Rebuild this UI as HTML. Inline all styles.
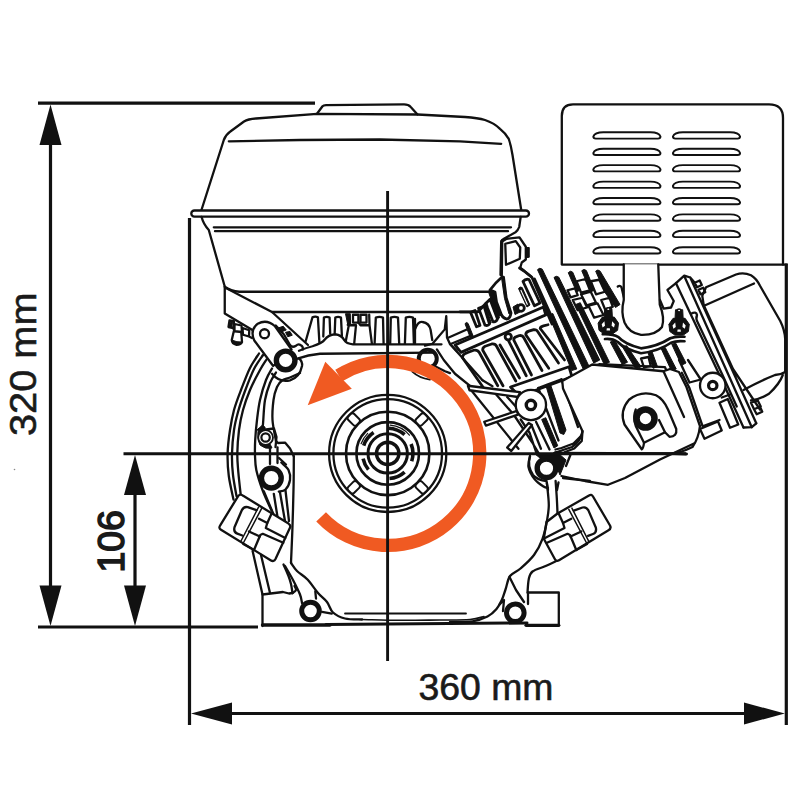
<!DOCTYPE html>
<html lang="en">
<head>
<meta charset="utf-8">
<title>Engine dimensions</title>
<style>
html,body{margin:0;padding:0;background:#fff;}
body{width:800px;height:800px;overflow:hidden;}
svg{display:block;}
text{font-family:"Liberation Sans",sans-serif;fill:#1a1a1a;}
.tx{stroke:#1a1a1a;stroke-width:.6;}
.k{fill:none;stroke:#111;stroke-width:2.3;stroke-linecap:round;stroke-linejoin:round;}
.t{fill:none;stroke:#111;stroke-width:1.1;stroke-linecap:round;stroke-linejoin:round;}
.w{fill:#fff;stroke:#111;stroke-width:2.3;stroke-linecap:round;stroke-linejoin:round;}
.b{fill:#111;stroke:none;}
.z path,.z circle,.z rect,.z ellipse,.z polygon,.z polyline,.z line{vector-effect:non-scaling-stroke;}
.hv .k,.hv .w{stroke-width:2.8;}
.bk{fill:#111;stroke:#111;stroke-width:1;stroke-linejoin:round;}
.o{fill:#f05a22;stroke:none;}
.d{fill:none;stroke:#111;stroke-width:3.2;}
</style>
</head>
<body>
<svg width="800" height="800" viewBox="0 0 800 800">
<rect width="800" height="800" fill="#fff"/>

<!-- TANK -->
<g id="tank">
<path class="k" d="M317 113.8L322.5 106.3Q323.5 105.2 326 105.1L404 104.4Q408.5 104.4 410.5 106.8L417.5 114.5"/>
<path class="k" d="M201.3 210.5L223.8 140Q226 134.5 230 131.8L244 121.5Q248 119 256 118.5L317 113.8L417.5 114.5L465 117Q478 118 485 120Q494 123 500 128.8Q506 133.5 508.8 139Q511.2 146 512.5 155L521.3 210.5"/>
<path class="k" d="M228.8 141.3L300 140L380 139.5L460 141.3L501.2 143.8"/>
<rect class="w" x="191.3" y="210.5" width="537.5" height="6.2" rx="3.1" style="width:337.7px"/>
<path class="k" d="M213.8 227.3H511M215 231.2H508"/>
<path class="k" d="M201.5 216.8Q203.5 224.5 208.8 230L224.75 286.5"/>
<path class="k" d="M520.7 216.8L519.2 227Q518 230.5 515.5 232.2L503.5 239L501.2 241.2L500.5 275"/>
</g>


<!-- MUFFLER -->
<g id="muffler">
<path class="k" d="M561.8 264.6V116Q561.8 104.4 573 104.4H769Q783 104.4 783 118V264.6Z"/>
<path class="k" d="M595.8 138.6H658.0Q660.5 138.6 660.5 136.6Q659.0 132.3 650.5 132.3H603.3Q594.8 132.3 593.3 136.6Q593.3 138.6 595.8 138.6ZM675.4 138.6H737.6Q740.1 138.6 740.1 136.6Q738.6 132.3 730.1 132.3H682.9Q674.4 132.3 672.9 136.6Q672.9 138.6 675.4 138.6ZM595.8 155.0H658.0Q660.5 155.0 660.5 153.0Q659.0 148.7 650.5 148.7H603.3Q594.8 148.7 593.3 153.0Q593.3 155.0 595.8 155.0ZM675.4 155.0H737.6Q740.1 155.0 740.1 153.0Q738.6 148.7 730.1 148.7H682.9Q674.4 148.7 672.9 153.0Q672.9 155.0 675.4 155.0ZM595.8 171.4H658.0Q660.5 171.4 660.5 169.4Q659.0 165.1 650.5 165.1H603.3Q594.8 165.1 593.3 169.4Q593.3 171.4 595.8 171.4ZM675.4 171.4H737.6Q740.1 171.4 740.1 169.4Q738.6 165.1 730.1 165.1H682.9Q674.4 165.1 672.9 169.4Q672.9 171.4 675.4 171.4ZM595.8 187.9H658.0Q660.5 187.9 660.5 185.9Q659.0 181.6 650.5 181.6H603.3Q594.8 181.6 593.3 185.9Q593.3 187.9 595.8 187.9ZM675.4 187.9H737.6Q740.1 187.9 740.1 185.9Q738.6 181.6 730.1 181.6H682.9Q674.4 181.6 672.9 185.9Q672.9 187.9 675.4 187.9ZM595.8 204.3H658.0Q660.5 204.3 660.5 202.3Q659.0 198.0 650.5 198.0H603.3Q594.8 198.0 593.3 202.3Q593.3 204.3 595.8 204.3ZM675.4 204.3H737.6Q740.1 204.3 740.1 202.3Q738.6 198.0 730.1 198.0H682.9Q674.4 198.0 672.9 202.3Q672.9 204.3 675.4 204.3ZM595.8 220.7H658.0Q660.5 220.7 660.5 218.7Q659.0 214.4 650.5 214.4H603.3Q594.8 214.4 593.3 218.7Q593.3 220.7 595.8 220.7ZM675.4 220.7H737.6Q740.1 220.7 740.1 218.7Q738.6 214.4 730.1 214.4H682.9Q674.4 214.4 672.9 218.7Q672.9 220.7 675.4 220.7ZM595.8 237.1H658.0Q660.5 237.1 660.5 235.1Q659.0 230.8 650.5 230.8H603.3Q594.8 230.8 593.3 235.1Q593.3 237.1 595.8 237.1ZM675.4 237.1H737.6Q740.1 237.1 740.1 235.1Q738.6 230.8 730.1 230.8H682.9Q674.4 230.8 672.9 235.1Q672.9 237.1 675.4 237.1ZM595.8 253.5H658.0Q660.5 253.5 660.5 251.5Q659.0 247.2 650.5 247.2H603.3Q594.8 247.2 593.3 251.5Q593.3 253.5 595.8 253.5ZM675.4 253.5H737.6Q740.1 253.5 740.1 251.5Q738.6 247.2 730.1 247.2H682.9Q674.4 247.2 672.9 251.5Q672.9 253.5 675.4 253.5Z" style="stroke-width:1.9"/>
</g>

<!-- tile A: upper-left bracket, link arm, big bolt -->
<g class="z" transform="translate(200 270) scale(0.15)">
<!-- tank bottom + bracket -->
<path class="k" d="M165 112Q205 140 262 145L1930 145"/>
<path class="k" d="M165 112L165 290L352 402"/>
<path class="k" d="M176 122L480 280L1850 280"/>
<path class="k" d="M480 280L720 500"/>
<path class="k" d="M505 370L560 430L600 500Q615 520 640 505Q655 490 670 500Q690 510 685 530"/>
<path class="bk" d="M525 385L555 375L575 400L545 412Z"/>
<path class="bk" d="M570 415L600 410L615 435L585 445Z"/>
<!-- small bolt (moved) -->
<!-- link arm -->
<path class="w" d="M488 640L362 470Q330 400 385 358Q445 325 500 375L610 530Z"/>
<circle class="k" cx="430" cy="425" r="30"/>
<!-- housing contour around bolt boss -->
<path class="k" d="M480 692Q530 752 600 736Q665 715 680 640Q685 610 660 590"/>
<!-- big bolt -->
<circle cx="571" cy="603" r="62" fill="#fff" stroke="#111" stroke-width="5.4"/>
</g>
<!-- small bolt detail [222,312] scale .05 -->
<g class="z" transform="translate(222 312) scale(0.05)">
<path class="k" d="M150 170L130 300L225 320L250 385L400 400L420 455L540 490L600 520M150 170L240 185L225 320M250 240L390 270L400 400M250 240L250 385M410 320L545 365L540 490M410 320L420 455M190 215L175 290"/>
<path class="k" d="M235 390L195 560Q200 640 290 655Q380 650 400 600L385 405"/>
<path class="bk" d="M195 560Q200 640 290 655Q380 650 400 600Q300 610 195 560Z"/>
</g>

<g id="left">
<path class="k" d="M259.0 353.5C257.5 355.9 253.0 361.9 250.0 368.0C247.0 374.1 243.7 383.0 241.0 390.0C238.3 397.0 235.8 403.3 234.0 410.0C232.2 416.7 231.1 422.7 230.0 430.0C228.9 437.3 227.8 446.1 227.6 453.8C227.4 461.5 227.8 468.4 228.8 476.0C229.8 483.6 232.7 495.6 233.5 499.5"/>
<path class="k" d="M263.0 355.0C261.5 357.3 257.0 363.0 254.0 369.0C251.0 375.0 247.7 383.8 245.0 391.0C242.3 398.2 239.8 405.5 238.0 412.0C236.2 418.5 235.0 423.0 234.0 430.0C233.0 437.0 232.2 446.3 232.0 453.8C231.8 461.3 232.2 468.0 233.0 475.0C233.8 482.0 235.9 492.5 236.5 496.0"/>
<path class="k" d="M266.5 359.5C265.4 361.2 262.8 364.9 260.0 370.0C257.2 375.1 252.8 383.3 250.0 390.0C247.2 396.7 244.8 403.3 243.0 410.0C241.2 416.7 239.9 422.7 239.0 430.0C238.1 437.3 237.4 446.8 237.3 453.8C237.2 460.8 237.8 465.3 238.3 472.0C238.9 478.7 240.2 490.2 240.6 493.8"/>
<path class="k" d="M272.0 368.5C271.0 370.4 268.0 374.8 266.0 380.0C264.0 385.2 261.5 393.3 260.0 400.0C258.5 406.7 257.8 413.3 257.0 420.0C256.2 426.7 255.5 434.2 255.2 440.0C254.9 445.8 254.8 450.0 255.0 455.0C255.2 460.0 255.1 464.2 256.3 470.0C257.6 475.8 260.0 483.3 262.5 490.0C265.0 496.7 269.8 506.7 271.3 510.0"/>
<path class="k" d="M276.0 372.5C275.0 374.2 271.8 378.4 270.0 383.0C268.2 387.6 266.2 393.2 265.0 400.0C263.8 406.8 263.5 418.8 263.0 424.0C262.5 429.2 262.2 429.8 262.0 431.0"/>
<path class="k" d="M300.0 373.0C298.3 373.8 293.0 376.2 290.0 377.5C287.0 378.8 284.2 378.9 282.0 380.5C279.8 382.1 278.4 383.8 277.0 387.0C275.6 390.2 274.2 394.5 273.5 400.0C272.8 405.5 272.1 413.2 272.5 420.0C272.9 426.8 275.4 437.5 276.0 441.0"/>
<path class="k" d="M276.0 441.0L278.0 443.0L285.0 442.6L290.0 448.5L293.8 456.3"/>
<path class="k" d="M293.8 456.3C293.8 461.1 293.8 473.4 293.6 485.0C293.4 496.6 292.9 513.0 292.5 526.0C292.1 539.0 291.2 556.8 291.0 563.0"/>
<path class="bk" d="M257.0 430.0L262.0 425.5L265.0 427.0L265.0 431.0Z"/>
<path class="bk" d="M258.5 428.5Q256.5 438 260 445Q265 449.5 272 448L270 444Q263 444 261.5 438Q261 432 264 428.5Z"/>
<circle class="w" cx="265.6" cy="437.5" r="7.4" style="stroke-width:1.8"/>
<circle class="k" cx="265.6" cy="437.5" r="4.2" style="stroke-width:2.2"/>
<path class="k" d="M262.0 430.0L274.0 428.5L276.5 437.0L275.5 447.0"/>
<path class="k" d="M270.0 447.0L270.0 464.0"/>
<path class="k" d="M277.5 447.5L277.5 463.0"/>
<path class="k" d="M281.3 462.5C282.5 463.8 287.1 467.1 288.5 470.0C289.9 472.9 290.5 476.8 290.0 480.0C289.5 483.2 287.4 487.6 285.5 489.5C283.6 491.4 279.9 491.2 278.8 491.5"/>
<path class="k" d="M279.0 458.0L286.0 464.5"/>
<circle cx="271.3" cy="478.1" r="9.9" fill="#fff" stroke="#111" stroke-width="5.4"/>
<path class="k" d="M263.8 491.3L273.8 515.0"/>
<path class="k" d="M273.8 493.8L278.0 520.0"/>
<path class="k" d="M280.0 492.5L285.0 521.0"/>
<path class="k" d="M285.5 490.5L289.0 521.0"/>
<path class="w" d="M238.3 495.8Q240.6 493.4 243.2 495.8L288.5 523.6Q291.5 525.6 289.6 528.5L275.5 559Q273.8 562.3 270.6 560.2L221 529.8Q218.3 528.1 220.2 525.4Z"/>
<path class="k" d="M261.7 508.3L243.6 542.5" style="stroke-width:1.5"/>
<path class="k" d="M258.6 507.0L241.0 541.0" style="stroke-width:1.5"/>
<path class="k" d="M256.5 510.2L247.8 507.2Q243.8 506.2 241.8 510.3L234.5 527.2Q233.3 532.2 237.3 533.7L242.3 535.5"/>
<path class="k" d="M271.5 513.8L267.3 523.0L259.0 518.8"/>
<path class="k" d="M267.3 523.0L265.8 528.0L285.3 538.0"/>
<path class="k" d="M283.3 542.8L262.8 533.8L260.3 535.0L254.0 550.0"/>
<path class="k" d="M259.8 536.5L249.0 531.5"/>
<path class="k" d="M254.0 550.0L243.3 544.0"/>
<path class="k" d="M252.6 551.0L262.5 594.5"/>
<path class="k" d="M261.0 555.0L270.0 593.0"/>
<path class="k" d="M283.5 564.5C284.3 566.4 287.2 572.8 288.5 576.0C289.8 579.2 290.3 581.2 291.0 584.0C291.7 586.8 292.2 591.5 292.5 593.0"/>
<path class="k" d="M285.0 566.0C286.3 568.3 290.5 575.2 293.0 580.0C295.5 584.8 298.5 590.7 300.0 594.5C301.5 598.3 301.7 601.6 302.0 603.0"/>
<path class="k" d="M291.0 563.0C292.0 564.3 294.2 568.2 297.0 571.0C299.8 573.8 304.0 575.8 307.5 579.5C311.0 583.2 314.8 589.2 318.0 593.0C321.2 596.8 324.5 598.8 327.0 602.0C329.5 605.2 330.0 609.8 333.0 612.5C336.0 615.2 340.2 617.3 345.0 618.5C349.8 619.7 359.2 619.3 362.0 619.5"/>
<path class="k" d="M315.3 591.3L316.0 598.5"/>
<path class="k" d="M322.0 611.8L331.8 613.6"/>
<path class="k" d="M292.5 593.0L289.0 593.5L283.0 592.0L262.5 594.5L262.5 626.0"/>
<path class="k" d="M292.5 593.0C293.1 592.5 295.7 591.2 296.0 590.0C296.3 588.8 294.8 586.7 294.5 586.0"/>
<path class="k" d="M262.5 625H330" style="stroke-width:3.4"/>
<circle cx="310.5" cy="611" r="8.8" fill="#fff" stroke="#111" stroke-width="5"/>
</g>

<!-- tile: fins under tank [290,290]-[410,370] scale .15 -->
<g class="z" transform="translate(290 290) scale(0.15)">
<!-- crankcase top edge -->
<path class="k" d="M60 405Q110 385 150 375Q215 355 232 330Q255 300 300 295Q345 300 362 335Q375 358 420 362L1010 362"/>
<path class="k" d="M50 458Q120 432 200 425L960 418"/>
<!-- fins -->
<path class="k" d="M105 340L150 182Q168 172 186 182L196 350"/>
<path class="k" d="M222 310L226 184Q245 174 264 184L268 292"/>
<path class="k" d="M298 288L302 184Q320 174 340 184L346 305"/>
<path class="bk" d="M370 158L402 158L404 228L385 232Z"/>
<path class="k" d="M372 340L392 235L440 235L428 358M385 232L440 235"/>
<rect class="k" x="420" y="165" width="36" height="52"/>
<rect class="k" x="470" y="165" width="40" height="52"/>
<path class="k" d="M456 217L470 235L530 235L546 358M528 165L530 235"/>
<path class="k" d="M564 358L572 184Q596 174 620 184L624 358"/>
<path class="k" d="M668 358L672 184Q696 174 720 184L728 358"/>
<path class="k" d="M766 358L772 184Q796 174 820 184L826 358"/>
</g>

<!-- tile: cylinder lower fins [440,300]-[560,420] scale .15 -->
<g class="z hv" transform="translate(440 300) scale(0.15)">
<!-- gaps between fins (lower section) -->
<path class="k" d="M300 600L150 385Q150 360 180 352L225 335Q250 330 262 350L385 572"/>
<path class="k" d="M420 572L285 335Q282 312 310 305L345 293Q370 290 378 310L505 540"/>
<path class="k" d="M530 520L400 300M455 268L575 505"/>
<circle class="w" cx="455" cy="245" r="21"/>
<path class="k" d="M610 500L492 268Q490 250 510 244L530 237Q550 234 558 250L680 470"/>
<path class="k" d="M725 455L572 232Q570 215 592 208L625 197Q645 196 652 212L790 420"/>
<path class="k" d="M830 400L668 190Q668 178 690 172L720 165"/>
<!-- rib band 1 -->
<path class="w" d="M100 300L690 47L705 99L140 349Z"/>
<!-- rib band 2 -->
<path class="w" d="M470 580L860 445L880 512L530 642Z"/>
</g>

<!-- tile: cylinder upper fins + tank bracket [470,240]-[590,360] scale .15 -->
<g class="z" transform="translate(470 240) scale(0.15)">
<!-- tank bracket -->
<path class="k" d="M222 5L245 -8L330 -18L372 45L372 130L345 150L335 185L372 215L410 245"/>
<path class="k" d="M235 25L305 8L335 50L332 125L240 165Z"/>
<path class="bk" d="M372 50L395 50L395 115L372 118Z"/>
<path class="k" d="M215 0L212 240"/>
</g>
<!-- fingers between tank bottom and band1: [480,260] scale .1 -->
<g class="z hv" transform="translate(480 260) scale(0.1)">
<path class="bk" d="M95 300L150 322L165 420L215 550L185 565L125 430L90 335Z"/>
<path class="w" d="M100 300Q150 230 215 175L235 172L262 380L310 530Q300 592 265 590Q232 582 215 550L165 420L150 320Z"/>
<path class="bk" d="M215 175L238 172L265 380L312 530L290 540L245 385Z"/>
<path class="w" d="M60 432L100 392L175 590Q160 625 130 618L75 480Z"/>
<path class="bk" d="M100 392L120 385L195 580L175 590Z"/>
<path class="w" d="M-15 482L40 462L95 640Q80 662 50 652L0 520Z"/>
<path class="bk" d="M40 462L58 455L112 630L95 640Z"/>
<path class="w" d="M-95 522L-50 505L0 655L-35 668Z"/>
<path class="k" d="M-200 518L-20 518L60 432"/>
<path class="w" d="M430 215Q455 185 490 195L600 430L545 458Z"/>
<path class="bk" d="M385 285Q400 262 422 275L500 450L470 470Z"/>
<path d="M408 300L475 448" stroke="#fff" stroke-width="1.1" fill="none"/>
<path class="bk" d="M330 470L380 440L400 520L350 545Z"/>
<circle class="w" cx="410" cy="480" r="33"/>
<path class="k" d="M520 175L720 640M545 190L745 630M395 80L440 110L520 175"/>
</g>

<!-- tile: spike + joint lines [430,300]-[530,400] scale .125 -->
<g class="z" transform="translate(430 300) scale(0.125)">
<circle cx="-18" cy="470" r="72" fill="none" stroke="#111" stroke-width="4"/>
<path class="k" d="M-40 365L20 350L118 235L130 130L136 300L160 352L420 642"/>
<path class="k" d="M160 352L215 410M150 300L290 238M170 350L330 285"/>
<path class="bk" d="M280 190Q292 170 305 188L350 300L325 308Z"/>
<path class="k" d="M55 395L110 480L200 590L330 695M20 520L120 570L160 585"/>
<path class="k" d="M420 642L500 690"/>
<path class="k" d="M-120 152L-120 345M-120 236Q-95 165 -60 176Q-5 185 5 240L18 320"/>
</g>
<path class="k" d="M412.3 371.6Q419 378 430 379.6" style="stroke-width:1.8"/>

<!-- tile: boss + lower cylinder [470,370]-[590,490] scale .15 -->
<g class="z" transform="translate(470 370) scale(0.15)">
<!-- lower cylinder panel -->
<path class="k" d="M455 120L520 95L610 62L640 110L750 395Q755 425 735 445L690 490L610 520L570 530"/>
<path class="bk" d="M505 100L535 92L640 400L625 430L600 420Z"/>
<path class="k" d="M455 120L590 470M610 62L720 380"/>
<path class="bk" d="M478 330L505 318L585 505L560 520Z"/>
<path class="k" d="M440 345L530 530"/>
<!-- long diagonals + spokes -->
<path class="k" d="M8 135L323 525M173 161L293 300L413 480L458 555M248 180L308 247M338 330L398 420L443 555M413 375L473 525"/>
<path class="w" d="M-14 105L333 148L320 180L-3 135Z"/>
<path class="w" d="M95 345L313 273L320 297L106 371Z"/>
<path class="w" d="M248 517L391 353L413 367L275 540Z"/>
<!-- boss -->
<circle class="w" cx="406" cy="233" r="101"/>
<circle cx="406" cy="233" r="31" fill="#fff" stroke="#111" stroke-width="3.4"/>
<!-- bolt below -->
<path class="k" d="M400 575Q380 640 420 700Q450 735 510 740L520 800M590 750L580 800M640 640L700 490M620 720L800 740"/>
<circle cx="510" cy="655" r="62" fill="#fff" stroke="#111" stroke-width="5.4"/>
<path class="bk" d="M440 565L600 565L640 600L600 700L575 640L540 595L470 590Z"/>
<circle cx="510" cy="655" r="40" fill="#fff" stroke="none"/>
</g>

<!-- tile: exhaust pipe + head fins [560,255]-[680,375] scale .15 -->
<g class="z" transform="translate(560 255) scale(0.15)">
<!-- thick head fins (left) -->
<path class="bk" d="M-40 150Q-25 135 -8 148L265 700L225 720Z"/>
<path class="bk" d="M-150 98Q-135 80 -118 95L195 745L155 760Z"/>
<path class="bk" d="M-75 400L-48 390L112 760L78 770Z"/>
<path class="bk" d="M55 118Q70 100 85 115L135 235L110 245Z"/>
<path class="bk" d="M145 105Q160 88 176 104L230 235L205 245Z"/>
<path class="bk" d="M238 108Q252 92 268 108L400 330L370 350L300 250Z"/>
<path class="bk" d="M105 330L135 318L330 715L295 730Z"/>
<path class="k" d="M110 175L170 160L200 235L140 250ZM205 175L262 165L300 245L240 262ZM50 235L100 222L118 268L70 282ZM140 262L205 245L240 318L178 335ZM85 300L150 285L180 350L118 368ZM275 300L330 285L352 345L300 362ZM190 338L250 322L290 400L228 418Z"/>
<path class="k" d="M385 210Q400 200 410 215L425 280"/>
<!-- lower fins under flange -->
<path class="bk" d="M335 580L365 570L450 715L415 730Z"/>
<path class="bk" d="M415 610L445 605L540 745L505 760Z"/>
<path class="bk" d="M585 645L612 640L650 745L620 755Z"/>
<path class="bk" d="M675 625L702 618L775 760L742 770Z"/>
<path class="bk" d="M745 595L772 588L840 720L810 735Z"/>
<path class="k" d="M540 690L590 680L605 740L560 750Z"/>
<!-- carb top -->
<path class="k" d="M170 765L262 728L700 748L722 800"/>
<!-- pipe -->
<path class="w" d="M425 62L425 300Q405 380 430 450Q460 520 540 532Q640 535 680 480Q700 420 665 330L655 62"/>
<!-- flange -->
<path class="k" style="stroke-width:2.7" d="M285 528Q350 525 390 548Q430 595 540 622Q650 610 735 555Q770 540 830 545"/>
<path class="k" style="stroke-width:2.7" d="M300 560Q350 555 385 580Q430 628 540 655Q660 640 740 585Q775 570 830 575"/>
<!-- nuts -->
<path class="bk" d="M254 454L282 414L362 414L390 454L384 502L350 526L294 526L260 502Z"/><path d="M278 462L296 442L300 472L284 484ZM366 462L348 442L344 472L360 484ZM312 488L332 488L334 504L310 504Z" fill="#fff"/><path class="bk" d="M298 357L346 357L350 432L294 432Z"/><ellipse cx="322" cy="362" rx="12" ry="10" fill="#fff" stroke="#111" stroke-width="1.5"/>
<path class="bk" d="M726 462L754 422L834 422L862 462L856 510L822 534L766 534L732 510Z"/><path d="M750 470L768 450L772 480L756 492ZM838 470L820 450L816 480L832 492ZM784 496L804 496L806 512L782 512Z" fill="#fff"/><path class="bk" d="M770 365L818 365L822 440L766 440Z"/><ellipse cx="794" cy="370" rx="12" ry="10" fill="#fff" stroke="#111" stroke-width="1.5"/>
</g>

<!-- tile: air cleaner cover + plates [670,255]-[790,375] scale .15 ; lower part uses y+700 -->
<g class="z" transform="translate(670 255) scale(0.15)">
<!-- cover -->
<path class="k" d="M225 335L215 272L240 215L440 130Q490 112 540 135Q575 155 600 205L735 440Q765 500 768 560L768 780Q740 798 700 800Q600 840 490 900"/>
<path class="k" d="M235 335L560 190"/>
<path class="k" d="M752 800Q730 860 660 925Q600 962 540 970"/>
<!-- plates -->
<path class="k" d="M40 188L95 138L135 150L165 185M40 188L330 800L490 1150M95 140L390 800L545 1148M135 150L430 800L575 1122M225 335L420 760L600 1030"/>
<path class="k" d="M490 1150L545 1148L575 1122"/>
<path class="k" d="M165 185L198 170L212 200L180 215ZM190 232L222 218L235 248L203 262Z"/>
<path class="k" d="M540 985L585 970L605 1010L560 1028ZM560 1028L600 1012L615 1045L578 1062Z"/>
<path class="k" d="M140 392Q175 372 180 400Q170 425 185 450L350 800L445 1010"/>
<path class="k" d="M40 187L-17 233L25 307L7 350L-43 357L-67 300"/>

<!-- boss -->
<circle class="w" cx="285" cy="870" r="85"/>
<circle cx="285" cy="870" r="28" fill="#fff" stroke="#111" stroke-width="3.2"/>
<!-- carb body pieces -->
<path class="k" d="M60 700L130 850M120 700L205 830M205 830L130 850"/>
<path class="k" d="M200 1160L320 1110L345 1170L230 1225Z"/>
<path class="k" d="M330 985L385 960L455 1130L400 1152Z"/>
<path class="k" d="M222 1140L330 1100M345 950L400 930"/>
<path class="k" d="M-10 1322L110 1326" style="stroke-width:3"/>
</g>

<!-- tile: carb body [560,345]-[680,465] scale .15 -->
<g class="z" transform="translate(560 345) scale(0.15)">
<path class="w" d="M15 240L215 130L690 175L733 160L793 180L843 280L933 540Q925 620 883 680Q800 722 740 722L-40 720L80 680Q140 640 150 575L20 290Z"/>
<path class="k" d="M690 175L827 480M150 575L145 640L95 690L30 715M812 185L862 285L950 540"/>
<!-- U bracket -->
<path class="k" d="M545 695L430 530Q395 440 460 365Q540 300 640 335Q690 360 720 430L775 560Q782 612 730 612L700 582L560 652Q555 690 545 695"/>
<path class="k" d="M560 652L505 540Q485 480 505 430M700 582L660 500"/>
<circle cx="570" cy="490" r="60" fill="#fff" stroke="#111" stroke-width="6.6"/>
</g>

<g id="rightleg">
<path class="w" d="M589 495.6Q591.3 493.6 593 496.5L610 525.5Q611.6 528.6 608.5 530.3L559 560.3Q556.3 562 554.8 559L543.8 538.8L546.5 522L557.5 513.5Z"/>
<path class="k" d="M568.8 509.4L586.3 542.5" style="stroke-width:1.5"/>
<path class="k" d="M571.9 508.1L588.8 541.3" style="stroke-width:1.5"/>
<path class="k" d="M573.8 510.6L582.5 507.5Q586.5 506.5 588.5 510.6L595.8 527.5Q597 532.5 593 534L588 535.8"/>
<path class="k" d="M558.8 513.8L563.0 523.0L571.3 518.8"/>
<path class="k" d="M563.0 523.0L564.5 528.0L545.0 538.0"/>
<path class="k" d="M547.0 542.8L567.5 533.8L570.0 535.0L576.3 550.0"/>
<path class="k" d="M570.5 536.5L581.3 531.5"/>
<path class="k" d="M576.3 550.0L587.0 544.0"/>
<path class="k" d="M546.9 483.0C547.2 486.7 548.8 498.7 548.8 505.0C548.8 511.3 547.9 515.4 546.9 521.0C545.9 526.6 544.6 533.1 542.5 538.8C540.4 544.5 537.7 550.0 534.0 555.0C530.3 560.0 524.5 565.0 520.5 568.5C516.5 572.0 512.5 572.5 510.0 576.0C507.5 579.5 506.9 585.5 505.5 589.5C504.1 593.5 503.3 596.8 501.8 600.0C500.3 603.2 498.9 606.2 496.5 609.0C494.1 611.8 491.5 614.5 487.5 616.5C483.5 618.5 478.8 620.4 472.5 621.3C466.2 622.2 453.8 621.9 450.0 622.0"/>
<path class="k" d="M555.6 481.0C555.8 483.8 556.5 492.7 556.8 498.0C557.1 503.3 557.4 510.5 557.5 513.0"/>
<path class="k" d="M556.3 561.0C554.4 561.9 549.0 564.5 545.0 566.3C541.0 568.0 535.2 569.4 532.5 571.5C529.8 573.6 529.6 575.5 528.8 579.0C528.0 582.5 527.7 590.2 527.5 592.5"/>
<path class="k" d="M509.5 577.0L516.0 590.0L524.0 602.0"/>
<path class="k" d="M499.5 604.5L504.0 600.0L503.0 611.0"/>
<path class="k" d="M561.5 476.0L585.0 481.0L608.0 484.8L625.0 478.0L660.0 459.5L694.0 443.5"/>
<path class="k" d="M530.0 456.0C529.8 457.8 527.8 463.2 528.5 467.0C529.2 470.8 532.0 475.8 534.5 479.0C537.0 482.2 541.2 485.0 543.5 486.5C545.8 488.0 547.2 487.8 548.0 488.0"/>
<path class="k" d="M528.0 592.5L558.8 592.5L558.8 625.5"/>
<path class="k" d="M528.0 592.5L528.0 604.0"/>
<path class="k" d="M526 625.3H558.8" style="stroke-width:3.2"/>
<path class="k" d="M326 624.4L527 623" style="stroke-width:3"/>
<path class="k" d="M345 613.5H466" style="stroke-width:1.8"/>
<path class="k" d="M362.0 619.5C368.3 619.6 387.0 620.2 400.0 620.3C413.0 620.4 428.3 620.1 440.0 620.0C451.7 619.9 462.7 620.1 470.0 619.5C477.3 618.9 481.7 617.0 484.0 616.5" style="stroke-width:1.6"/>
<circle cx="515.3" cy="612.7" r="8.8" fill="#fff" stroke="#111" stroke-width="5"/>
</g>

<g id="hub">
<circle class="k" cx="387.7" cy="453.4" r="58.6" style="stroke-width:2.3"/>
<circle class="k" cx="387.7" cy="453.4" r="54.3" style="stroke-width:2.3"/>
<circle class="k" cx="387.7" cy="453.4" r="41.7" style="stroke-width:2.6"/>
<circle class="k" cx="387.7" cy="453.4" r="31.3" style="stroke-width:2.6"/>
<circle class="k" cx="387.7" cy="453.4" r="19.7" style="stroke-width:3"/>
<circle class="k" cx="387.7" cy="453.4" r="11.2" style="stroke-width:3.4"/>
<rect class="w" x="429.7" y="449.2" width="12" height="8.4" rx="2.5" transform="rotate(45 387.7 453.4)" style="stroke-width:2"/>
<rect class="w" x="429.7" y="449.2" width="12" height="8.4" rx="2.5" transform="rotate(135 387.7 453.4)" style="stroke-width:2"/>
<rect class="w" x="429.7" y="449.2" width="12" height="8.4" rx="2.5" transform="rotate(225 387.7 453.4)" style="stroke-width:2"/>
<rect class="w" x="429.7" y="449.2" width="12" height="8.4" rx="2.5" transform="rotate(315 387.7 453.4)" style="stroke-width:2"/>
<path class="k" d="M411.1 444.0A25.2 25.2 0 0 1 411.7 461.2M388.6 428.2A25.2 25.2 0 0 1 404.6 434.7M363.7 445.6A25.2 25.2 0 0 1 373.6 432.5M368.4 469.6A25.2 25.2 0 0 1 363.1 458.6M404.6 472.1A25.2 25.2 0 0 1 389.5 478.5" style="stroke-width:3.6;stroke-linecap:butt"/>
<path class="k" d="M390.2 425.2A28.3 28.3 0 0 1 409.4 435.2M361.1 443.7A28.3 28.3 0 0 1 367.7 433.4" style="stroke-width:1.2"/>
</g>

<g id="arrow">
<path d="M321.1 516.8A92 92 0 1 0 338.8 375.5" fill="none" stroke="#f05a22" stroke-width="13.4"/>
<path class="o" d="M307.7 405.3L325.3 361.8L351.8 388.8Z"/>
</g>

<!-- DIMENSIONS -->
<g id="dims">
<path class="d" d="M38 103.2H315"/>
<path class="d" d="M38 627H258"/>
<path class="d" d="M50.5 140V590"/>
<path class="b" d="M50.5 104.5L61.5 145H39.5Z"/>
<path class="b" d="M50.5 626L61.5 585.5H39.5Z"/>
<path class="d" d="M123.5 453.8H686" style="stroke-width:2.9"/>
<path class="d" d="M135 490V590"/>
<path class="b" d="M135 455L146 495H124Z"/>
<path class="b" d="M135 626L146 585.5H124Z"/>
<path class="d" d="M189.5 218V725"/>
<path class="d" d="M786.3 263.5V725"/><path class="k" d="M783 264.6H786.5"/>
<path class="d" d="M228 713.5H748"/>
<path class="b" d="M191 713.5L232 702.5V724.5Z"/>
<path class="b" d="M784.8 713.5L744 702.5V724.5Z"/>
<path class="d" d="M387.6 191V661" style="stroke-width:2.9"/>
<circle cx="14.5" cy="469.5" r="0.8" fill="#888"/>
<text transform="translate(35.5 436) rotate(-90)" font-size="36.5" textLength="143.5" lengthAdjust="spacingAndGlyphs" class="tx">320 mm</text>
<text transform="translate(124.2 572.5) rotate(-90)" font-size="36.6" textLength="62.4" lengthAdjust="spacingAndGlyphs" class="tx" style="stroke-width:1.5">106</text>
<text x="418.5" y="700" font-size="36.5" textLength="135" lengthAdjust="spacingAndGlyphs" class="tx">360 mm</text>
</g>


</svg>
</body>
</html>
